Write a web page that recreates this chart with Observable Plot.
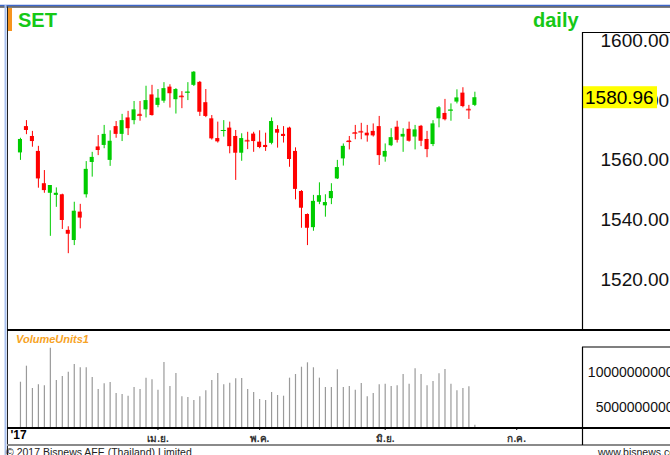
<!DOCTYPE html>
<html><head><meta charset="utf-8">
<script src="https://cdn.jsdelivr.net/npm/d3@7"></script>
<script src="https://cdn.jsdelivr.net/npm/@observablehq/plot@0.6"></script>
<style>
html,body{margin:0;padding:0;background:#fff;}
#chart{position:relative;width:670px;height:455px;overflow:hidden;font-family:"Liberation Sans",Arial,sans-serif;background:#fff;}
#chart svg{position:absolute;left:0;}
</style></head><body><div id="chart"></div>
<script>
// ---- data (SET index, daily, index 0 = first session shown) ----
const opens = [1562.5,1571.3,1568.0,1563.0,1552.2,1549.0,1548.3,1548.5,1536.6,1533.2,1542.7,1548.5,1559.3,1564.5,1565.0,1560.0,1571.3,1568.7,1574.2,1573.3,1575.4,1576.9,1581.9,1578.4,1579.8,1584.5,1580.3,1581.5,1582.6,1585.1,1586.1,1579.3,1573.9,1567.3,1569.8,1570.8,1568.0,1562.4,1566.7,1568.8,1566.1,1565.0,1565.7,1570.3,1568.7,1570.8,1563.0,1549.6,1541.9,1537.5,1546.0,1544.8,1547.2,1553.8,1560.5,1566.5,1569.3,1569.7,1569.1,1569.7,1571.3,1561.1,1564.9,1571.1,1567.8,1570.4,1567.8,1571.4,1567.0,1565.3,1573.9,1575.7,1576.6,1579.5,1582.5,1577.1,1578.4];
const highs = [1567.4,1573.3,1569.7,1564.7,1556.6,1551.6,1550.8,1548.7,1537.8,1546.0,1545.3,1559.6,1562.7,1568.3,1571.7,1569.9,1573.0,1575.4,1576.4,1579.7,1579.7,1584.8,1585.1,1583.7,1586.0,1585.3,1584.0,1583.0,1586.0,1589.7,1586.4,1583.7,1575.0,1572.8,1573.3,1572.8,1570.0,1568.9,1569.4,1569.4,1569.9,1569.1,1574.2,1571.6,1571.3,1571.1,1564.2,1549.9,1542.1,1548.3,1552.5,1548.5,1552.2,1560.0,1565.5,1568.0,1571.7,1572.4,1571.7,1572.2,1574.7,1565.5,1570.6,1573.1,1570.6,1572.8,1571.7,1571.7,1569.7,1573.3,1578.0,1580.4,1578.9,1583.6,1584.3,1578.4,1582.8];
const lows = [1560.0,1568.6,1564.4,1550.7,1549.0,1534.6,1544.3,1536.9,1528.8,1531.5,1537.1,1547.4,1554.4,1561.6,1563.9,1558.0,1567.4,1566.3,1568.3,1571.9,1573.1,1574.2,1574.8,1577.6,1579.1,1577.5,1575.5,1577.3,1580.0,1584.7,1574.7,1574.3,1566.8,1565.8,1567.8,1562.2,1553.3,1559.7,1563.6,1562.7,1563.9,1563.0,1565.2,1564.1,1565.8,1557.7,1546.8,1537.3,1531.5,1536.3,1545.2,1541.0,1545.2,1553.6,1558.1,1563.5,1566.9,1566.9,1566.1,1567.8,1558.3,1559.4,1564.6,1565.8,1562.7,1566.1,1563.5,1564.6,1560.9,1564.6,1570.9,1573.2,1573.1,1578.9,1577.6,1573.7,1578.0];
const closes = [1567.0,1570.0,1566.3,1553.8,1549.9,1551.6,1549.0,1539.9,1535.3,1543.0,1540.7,1557.0,1561.0,1563.3,1568.7,1566.4,1568.7,1573.3,1570.6,1576.9,1575.1,1580.0,1575.0,1580.8,1584.0,1582.3,1583.7,1581.3,1582.8,1589.5,1576.1,1574.7,1567.2,1566.2,1570.0,1564.6,1562.4,1567.3,1566.5,1566.3,1564.3,1564.3,1573.0,1569.1,1568.0,1560.3,1550.3,1544.0,1537.3,1546.3,1548.2,1545.9,1549.6,1557.6,1564.7,1566.3,1569.1,1569.5,1568.2,1568.2,1561.6,1563.0,1567.6,1566.7,1568.7,1566.4,1570.2,1566.4,1563.6,1572.2,1577.6,1573.6,1576.8,1580.9,1578.0,1576.9,1580.96];
const volumes = [8.63e9,10.96e9,7.72e9,8.26e9,8.11e9,13.58e9,8.88e9,9.46e9,10.09e9,11.21e9,10.73e9,10.73e9,9.32e9,7.57e9,8.40e9,8.59e9,6.99e9,6.85e9,6.60e9,7.86e9,7.57e9,9.22e9,8.98e9,7.47e9,11.50e9,8.01e9,9.90e9,6.51e9,6.41e9,5.97e9,6.51e9,7.38e9,8.88e9,9.90e9,8.26e9,8.49e9,9.13e9,9.17e9,7.57e9,7.14e9,6.12e9,5.97e9,7.14e9,6.70e9,6.60e9,9.22e9,9.75e9,10.81e9,11.45e9,10.73e9,9.22e9,7.86e9,7.86e9,10.44e9,7.86e9,8.01e9,7.47e9,8.44e9,6.51e9,6.99e9,8.26e9,8.34e9,8.01e9,8.11e9,9.75e9,8.34e9,10.58e9,9.75e9,8.11e9,8.74e9,9.85e9,10.48e9,8.34e9,7.38e9,7.72e9,7.97e9,2.38e9];
const monthTicks = [23, 40, 61, 83];
const monthLabels = ["เม.ย.", "พ.ค.", "มิ.ย.", "ก.ค."];
const yearLabel = "'17";
const priceTicks = [1520, 1540, 1560, 1580, 1600];
const volumeTicks = [5e9, 1e10];
const symbol = "SET";
const period = "daily";
const volumeTitle = "VolumeUnits1";
const footerLeft = "© 2017 Bisnews AFE (Thailand) Limited";
const footerRight = "www.bisnews.com";

// ---- scales setup ----
const X_DOMAIN = [-2, 94];
const P_DOMAIN = [1503.44, 1610.80];
const V_DOMAIN = [2.05e9, 16.0e9];
const UP = "#00cc00", DOWN = "#ff0000";
const FONT = "Liberation Sans, Arial, sans-serif";

const candles = closes.map((c, i) => ({i, open: opens[i], high: highs[i], low: lows[i], close: c, col: c >= opens[i] ? UP : DOWN}));
const vols = volumes.map((v, i) => ({i, v}));

const root = document.getElementById("chart");

const price = Plot.plot({
  width: 670, height: 330,
  marginLeft: 8, marginRight: 88, marginTop: 8, marginBottom: 1,
  style: {fontFamily: FONT, background: "transparent", overflow: "visible"},
  x: {domain: X_DOMAIN, axis: null},
  y: {domain: P_DOMAIN, axis: null},
  color: {type: "identity"},
  marks: [
    Plot.axisY({anchor: "right", label: null, ticks: priceTicks, tickSize: 0, tickPadding: 18, tickFormat: d3.format(".2f"), fontSize: 19, fill: "#111"}),
    Plot.ruleX(candles, {x: "i", y1: "low", y2: "high", stroke: "col", strokeWidth: 1}),
    Plot.rect(candles, {x1: d => d.i - 0.34, x2: d => d.i + 0.34, y1: "open", y2: "close", fill: "col"}),
    Plot.ruleY(candles.filter(d => Math.abs(d.open - d.close) < 0.6), {y: "close", x1: d => d.i - 0.42, x2: d => d.i + 0.42, stroke: "col", strokeWidth: 1})
  ]
});
price.style.top = "0px";
root.appendChild(price);

// last price marker
const yLast = price.scale("y").apply(closes[closes.length - 1]);
const ps = d3.select(price);
ps.append("rect").attr("x", 582).attr("y", yLast - 11).attr("width", 75).attr("height", 22).attr("fill", "#ffff00");
ps.append("text").attr("x", 585).attr("y", yLast).attr("dy", "0.35em").attr("font-size", 19).attr("fill", "#000")
  .attr("text-anchor", "start").attr("font-family", FONT).text(d3.format(".2f")(closes[closes.length - 1]));

const vol = Plot.plot({
  width: 670, height: 125,
  marginLeft: 8, marginRight: 88, marginTop: 1, marginBottom: 28,
  style: {fontFamily: FONT, background: "transparent", overflow: "visible"},
  x: {domain: X_DOMAIN, axis: null},
  y: {domain: V_DOMAIN, axis: null},
  marks: [
    Plot.ruleX(vols, {x: "i", y1: () => V_DOMAIN[0], y2: "v", stroke: "#9a9a9a", strokeWidth: 1.2}),
    Plot.axisY({anchor: "right", label: null, ticks: volumeTicks, tickSize: 0, tickPadding: 91, textAnchor: "end", tickFormat: d => d.toFixed(0), fontSize: 14, fill: "#111"}),
    Plot.axisX({anchor: "bottom", label: null, ticks: monthTicks, tickFormat: d => monthLabels[monthTicks.indexOf(d)], tickSize: 3, tickPadding: 4, fontSize: 10, fill: "#333", fontWeight: "bold"}),
    Plot.text([yearLabel], {frameAnchor: "bottom-left", dx: 2, dy: 3, textAnchor: "start", lineAnchor: "top", fontWeight: "bold", fontSize: 12, fill: "#000"})
  ]
});
vol.style.top = "330px";
root.appendChild(vol);

// ---- overlay: frame, titles, footer ----
const ov = d3.select(root).append("svg").attr("width", 670).attr("height", 455)
  .style("top", "0px").style("pointer-events", "none").style("font-family", FONT);
function line(x1, y1, x2, y2, c, w) { ov.append("line").attr("x1", x1).attr("y1", y1).attr("x2", x2).attr("y2", y2).attr("stroke", c).attr("stroke-width", w); }
// outer frame
line(0, 5.5, 670, 5.5, "#3d66c9", 1.5);
line(0, 7, 670, 7, "#000", 1);
line(5.5, 5, 5.5, 455, "#a9c1ef", 2);
line(7.5, 6.5, 7.5, 455, "#222", 1);
// panel separators
line(7, 330, 670, 330, "#000", 2);
line(7, 428, 670, 428, "#000", 2);
line(7, 445, 670, 445, "#8a8a8a", 2);
// right axis boxes
line(582.5, 32, 582.5, 330, "#000", 1.2);
line(582, 32.5, 670, 32.5, "#000", 1.2);
line(582.5, 347, 582.5, 428, "#000", 1.2);
line(582, 347, 670, 347, "#000", 1.2);
line(582.5, 428, 582.5, 445, "#000", 1.2);
// titles
ov.append("rect").attr("x", 8).attr("y", 8).attr("width", 4).attr("height", 23).attr("fill", "#f7941d");
ov.append("text").attr("x", 18).attr("y", 27).attr("font-size", 20).attr("font-weight", "bold").attr("fill", "#16c816").text(symbol);
ov.append("text").attr("x", 533).attr("y", 26.5).attr("font-size", 20).attr("font-weight", "bold").attr("fill", "#16c816").text(period);
ov.append("text").attr("x", 16).attr("y", 343).attr("font-size", 11).attr("font-weight", "bold").attr("font-style", "italic").attr("fill", "#f7a325").text(volumeTitle);
// footer
ov.append("text").attr("x", 6).attr("y", 456).attr("font-size", 10.5).attr("fill", "#222").text(footerLeft);
ov.append("text").attr("x", 598).attr("y", 456).attr("font-size", 10.5).attr("fill", "#222").text(footerRight);
</script></body></html>
